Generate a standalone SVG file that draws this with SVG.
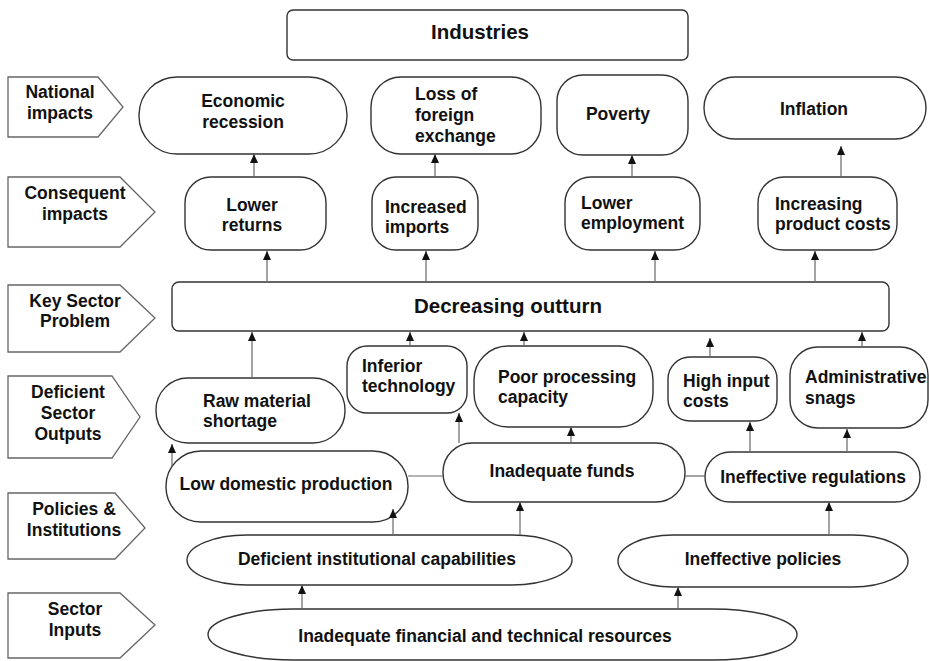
<svg xmlns="http://www.w3.org/2000/svg" width="929" height="661" viewBox="0 0 929 661">
<defs>
<marker id="ah" viewBox="0 0 9 8" refX="9" refY="4" markerWidth="9" markerHeight="8" markerUnits="userSpaceOnUse" orient="auto">
<path d="M0,0 L9,4 L0,8 Z" fill="#111"/>
</marker>
</defs>
<style>
.lab{fill:#fff;stroke:#666;stroke-width:1.3}
.nd{fill:#fff;stroke:#333;stroke-width:1.4}
.t{font-family:"Liberation Sans",Arial,sans-serif;font-weight:bold;font-size:17.5px;fill:#111}
.c{text-anchor:middle}
.big{font-size:20.5px}
.cn{stroke:#666;stroke-width:1.2;fill:none}
.ar{marker-end:url(#ah)}
</style>
<rect width="929" height="661" fill="#fff"/>

<g id="industries"><rect class="nd" x="287" y="10" width="401" height="50" rx="6"/><text class="t c big" x="480" y="39">Industries</text></g>

<g id="lab-national"><polygon class="lab" points="8,77 98,77 123,107 98,137 8,137"/><text class="t c" x="60" y="98">National</text><text class="t c" x="60" y="119">impacts</text></g>
<g id="lab-consequent"><polygon class="lab" points="8,177 120,177 155,212 120,247 8,247"/><text class="t c" x="75" y="199">Consequent</text><text class="t c" x="75" y="220">impacts</text></g>
<g id="lab-key"><polygon class="lab" points="8,285 120,285 155,318 120,352 8,352"/><text class="t c" x="75" y="307">Key Sector</text><text class="t c" x="75" y="327">Problem</text></g>
<g id="lab-deficient"><polygon class="lab" points="8,376 112,376 140,417 112,458 8,458"/><text class="t c" x="68" y="398">Deficient</text><text class="t c" x="68" y="419">Sector</text><text class="t c" x="68" y="440">Outputs</text></g>
<g id="lab-policies"><polygon class="lab" points="8,493 115,493 145,528 115,559 8,559"/><text class="t c" x="74" y="515">Policies &amp;</text><text class="t c" x="74" y="536">Institutions</text></g>
<g id="lab-inputs"><polygon class="lab" points="8,593 120,593 155,625 120,658 8,658"/><text class="t c" x="75" y="615">Sector</text><text class="t c" x="75" y="636">Inputs</text></g>

<g id="economic-recession"><rect class="nd" x="139" y="77" width="208" height="77" rx="38"/><text class="t c" x="243" y="107">Economic</text><text class="t c" x="243" y="128">recession</text></g>
<g id="loss-foreign-exchange"><rect class="nd" x="371" y="77" width="170" height="77" rx="30"/><text class="t" x="415" y="100">Loss of</text><text class="t" x="415" y="121">foreign</text><text class="t" x="415" y="142">exchange</text></g>
<g id="poverty"><rect class="nd" x="557" y="75" width="131" height="80" rx="26"/><text class="t c" x="618" y="120">Poverty</text></g>
<g id="inflation"><rect class="nd" x="704" y="77" width="222" height="62" rx="31"/><text class="t c" x="814" y="115">Inflation</text></g>

<g id="lower-returns"><rect class="nd" x="185" y="177" width="141" height="73" rx="26"/><text class="t c" x="252" y="211">Lower</text><text class="t c" x="252" y="231">returns</text></g>
<g id="increased-imports"><rect class="nd" x="372" y="177" width="106" height="73" rx="24"/><text class="t" x="385" y="213">Increased</text><text class="t" x="385" y="233">imports</text></g>
<g id="lower-employment"><rect class="nd" x="565" y="177" width="135" height="73" rx="26"/><text class="t" x="581" y="209">Lower</text><text class="t" x="581" y="229">employment</text></g>
<g id="increasing-product-costs"><rect class="nd" x="758" y="177" width="139" height="73" rx="26"/><text class="t" x="775" y="210">Increasing</text><text class="t" x="775" y="230">product costs</text></g>

<g id="decreasing-outturn"><rect class="nd" x="172" y="282" width="717" height="49" rx="7"/><text class="t c big" x="508" y="313">Decreasing outturn</text></g>

<g id="raw-material-shortage"><rect class="nd" x="156" y="378" width="189" height="65" rx="32"/><text class="t" x="203" y="407">Raw material</text><text class="t" x="203" y="427">shortage</text></g>
<g id="inferior-technology"><rect class="nd" x="347" y="346" width="120" height="67" rx="20"/><text class="t" x="362" y="372">Inferior</text><text class="t" x="362" y="392">technology</text></g>
<g id="poor-processing-capacity"><rect class="nd" x="474" y="346" width="179" height="81" rx="34"/><text class="t" x="498" y="383">Poor processing</text><text class="t" x="498" y="403">capacity</text></g>
<g id="high-input-costs"><rect class="nd" x="668" y="357" width="109" height="64" rx="22"/><text class="t" x="683" y="387">High input</text><text class="t" x="683" y="407">costs</text></g>
<g id="administrative-snags"><rect class="nd" x="790" y="347" width="138" height="81" rx="28"/><text class="t" x="805" y="383">Administrative</text><text class="t" x="805" y="404">snags</text></g>

<g id="low-domestic-production"><rect class="nd" x="166" y="451" width="242" height="71" rx="35"/><text class="t c" x="286" y="490">Low domestic production</text></g>
<g id="inadequate-funds"><rect class="nd" x="443" y="443" width="242" height="59" rx="29"/><text class="t c" x="562" y="477">Inadequate funds</text></g>
<g id="ineffective-regulations"><rect class="nd" x="705" y="452" width="215" height="50" rx="25"/><text class="t c" x="813" y="483">Ineffective regulations</text></g>

<g id="deficient-institutional-capabilities"><rect class="nd" x="187" y="535" width="385" height="50" rx="60" ry="25"/><text class="t c" x="377" y="565">Deficient institutional capabilities</text></g>
<g id="ineffective-policies"><rect class="nd" x="618" y="535" width="290" height="52" rx="55" ry="26"/><text class="t c" x="763" y="565">Ineffective policies</text></g>

<g id="inadequate-resources"><rect class="nd" x="208" y="609" width="589" height="51" rx="85" ry="25.5"/><text class="t c" x="485" y="642">Inadequate financial and technical resources</text></g>

<g id="connectors">
<line class="cn ar" x1="254" y1="177" x2="254" y2="154"/>
<line class="cn ar" x1="435" y1="177" x2="435" y2="154"/>
<line class="cn ar" x1="632" y1="177" x2="632" y2="155"/>
<line class="cn ar" x1="841" y1="177" x2="841" y2="146"/>

<line class="cn ar" x1="267" y1="282" x2="267" y2="251"/>
<line class="cn ar" x1="426" y1="282" x2="426" y2="251"/>
<line class="cn ar" x1="655" y1="282" x2="655" y2="251"/>
<line class="cn ar" x1="815" y1="282" x2="815" y2="251"/>

<line class="cn ar" x1="252" y1="378" x2="252" y2="332"/>
<line class="cn ar" x1="410" y1="346" x2="410" y2="332"/>
<line class="cn ar" x1="524" y1="346" x2="524" y2="332"/>
<line class="cn ar" x1="710" y1="357" x2="710" y2="338"/>
<line class="cn ar" x1="862" y1="347" x2="862" y2="332"/>

<line class="cn ar" x1="172" y1="466" x2="172" y2="444"/>
<line class="cn ar" x1="459" y1="443" x2="459" y2="413"/>
<line class="cn ar" x1="571" y1="443" x2="571" y2="427"/>
<line class="cn ar" x1="750" y1="452" x2="750" y2="422"/>
<line class="cn ar" x1="847" y1="452" x2="847" y2="429"/>

<line class="cn" x1="408" y1="476" x2="443" y2="476"/>
<line class="cn" x1="685" y1="476" x2="705" y2="476"/>

<line class="cn ar" x1="393" y1="535" x2="393" y2="509"/>
<line class="cn ar" x1="520" y1="535" x2="520" y2="502"/>
<line class="cn ar" x1="829" y1="535" x2="829" y2="502"/>

<line class="cn ar" x1="302" y1="609" x2="302" y2="585"/>
<line class="cn ar" x1="678" y1="609" x2="678" y2="587"/>
</g>
</svg>
